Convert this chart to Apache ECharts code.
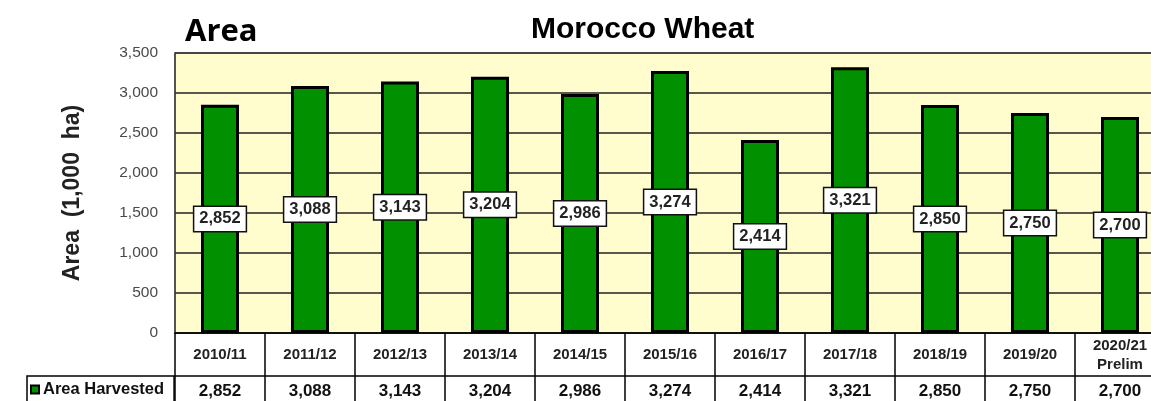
<!DOCTYPE html>
<html>
<head>
<meta charset="utf-8">
<script src="https://cdn.jsdelivr.net/npm/echarts@6/dist/echarts.min.js"></script>
<style>
  html, body { margin: 0; padding: 0; background: #fff; }
  #chart { width: 1151px; height: 401px; }
</style>
</head>
<body>
<div id="chart"></div>
<script>
// data
const years = ['2010/11', '2011/12', '2012/13', '2013/14', '2014/15', '2015/16',
  '2016/17', '2017/18', '2018/19', '2019/20', '2020/21\nPrelim']
const areaHarvested = [2852, 3088, 3143, 3204, 2986, 3274, 2414, 3321, 2850, 2750, 2700]
const yTicks = { min: 0, max: 3500, interval: 500 }

const fmt = v => Number(v).toLocaleString('en-US')
const font = 'Liberation Sans, Arial, sans-serif'

const chart = echarts.init(document.getElementById('chart'))

chart.setOption({
  animation: false,
  textStyle: { fontFamily: font },
  title: [
    {
      text: 'Morocco Wheat',
      left: 526,
      top: 10,
      textStyle: { fontSize: 30, fontWeight: 'bold', color: '#000', fontFamily: font }
    },
    {
      text: 'Area',
      left: 180,
      top: 12,
      textStyle: { fontSize: 31, fontWeight: 'bold', color: '#000', fontFamily: 'Open Sans, Liberation Sans, sans-serif' }
    }
  ],
  // row label of the data table
  legend: {
    data: ['Area Harvested'],
    left: 27,
    top: 376,
    icon: 'rect',
    itemWidth: 8,
    itemHeight: 8,
    itemGap: 0,
    padding: [5, 10, 12, 3],
    borderColor: '#000',
    borderWidth: 1.5,
    textStyle: { fontSize: 16.5, fontWeight: 'bold', color: '#111', padding: [0, 0, 0, -1] }
  },
  grid: {
    left: 175,
    top: 53,
    width: 990,
    bottom: 68,
    outerBoundsMode: 'none',
    containLabel: false,
    show: true,
    backgroundColor: '#FFFCCD',
    borderColor: '#999',
    borderWidth: 1.5
  },
  xAxis: [
    { // header row
      type: 'category',
      position: 'bottom',
      data: years,
      axisLine: { lineStyle: { color: '#000', width: 1.5 } },
      axisTick: { show: true, interval: 0, length: 43, lineStyle: { color: '#000', width: 1.5 } },
      axisLabel: {
        interval: 0,
        margin: 22,
        verticalAlign: 'middle',
        fontSize: 15,
        fontWeight: 'bold',
        color: '#222',
        lineHeight: 19
      }
    },
    { // values row
      type: 'category',
      position: 'bottom',
      offset: 43,
      data: years,
      axisLine: { lineStyle: { color: '#000', width: 1.5 } },
      axisTick: { show: true, interval: 0, length: 40, lineStyle: { color: '#000', width: 1.5 } },
      axisLabel: {
        interval: 0,
        margin: 15,
        verticalAlign: 'middle',
        fontSize: 17,
        fontWeight: 'bold',
        color: '#111',
        formatter: (v, i) => fmt(areaHarvested[i])
      }
    }
  ],
  yAxis: {
    type: 'value',
    min: yTicks.min,
    max: yTicks.max,
    interval: yTicks.interval,
    name: 'Area  (1,000  ha)',
    nameLocation: 'middle',
    nameGap: 91,
    nameTextStyle: { fontSize: 23, fontWeight: 'bold', color: '#222' },
    axisLine: { show: true, lineStyle: { color: '#333', width: 1.5 } },
    axisTick: { show: false },
    axisLabel: { fontSize: 15.5, color: '#4a4a4a', margin: 17, formatter: v => fmt(v) },
    splitLine: { lineStyle: { color: '#222', width: 1.5 } }
  },
  series: [
    {
      name: 'Area Harvested',
      type: 'bar',
      data: areaHarvested,
      barWidth: 38,
      itemStyle: { color: '#009000', borderColor: '#000', borderWidth: 3 },
      label: {
        show: true,
        position: 'inside',
        formatter: p => fmt(p.value),
        backgroundColor: '#fff',
        borderColor: '#111',
        borderWidth: 1.5,
        padding: [4, 5, 3, 5],
        fontSize: 16.5,
        fontWeight: 'bold',
        color: '#222'
      }
    }
  ]
})
</script>
</body>
</html>
